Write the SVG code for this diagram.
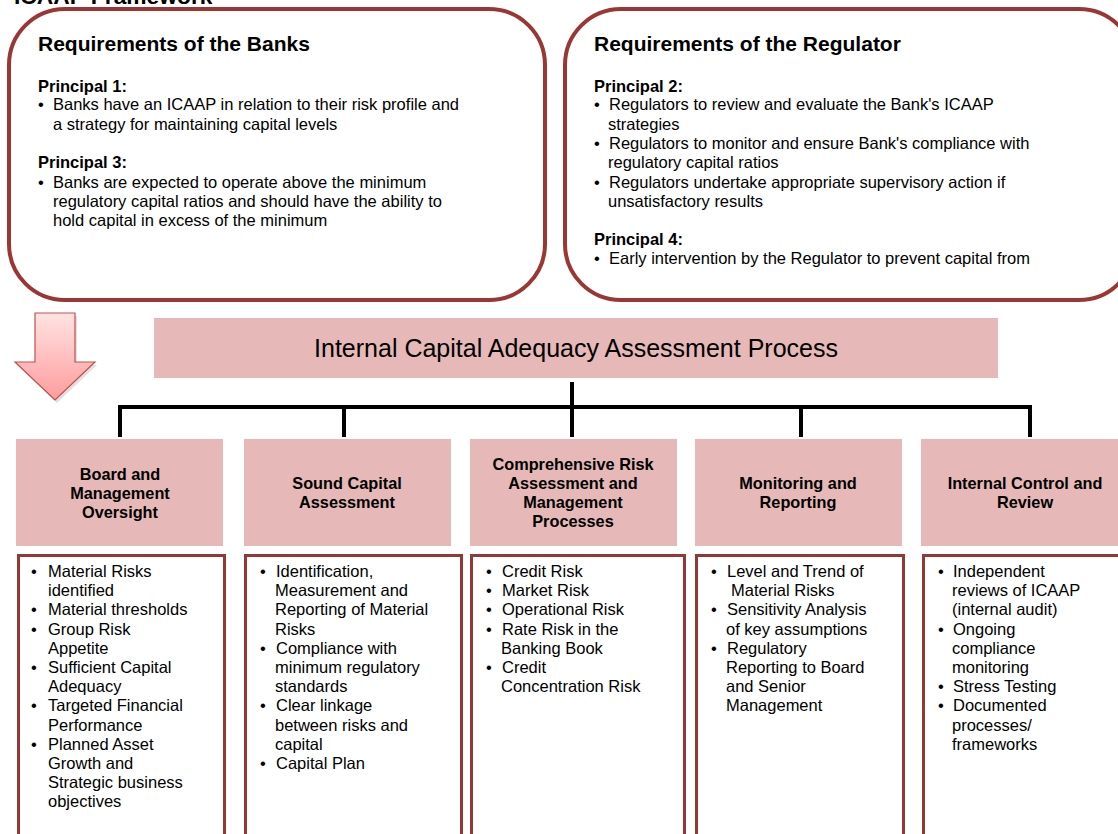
<svg xmlns="http://www.w3.org/2000/svg" width="1118" height="834" viewBox="0 0 1118 834">
<style>
text{font-family:"Liberation Sans",Arial,sans-serif;fill:#000}
.h1{font-size:21px;font-weight:bold}
.pr{font-size:16.5px;font-weight:bold}
.b{font-size:16.5px}
.hd{font-size:16.3px;font-weight:bold;text-anchor:middle}
.cb{font-size:16.5px}
.rbox{fill:#fff;stroke:#9A3735;stroke-width:4}
.head{fill:#E6B8B7}
.cbox{fill:#fff;stroke:#953734;stroke-width:3}
.conn{fill:none;stroke:#000;stroke-width:4;stroke-linejoin:miter}
</style>
<defs>
<linearGradient id="ag" x1="0" y1="0" x2="0" y2="1">
<stop offset="0" stop-color="#FFE3E3"/>
<stop offset="1" stop-color="#FF9C9C"/>
</linearGradient>
</defs>
<rect width="1118" height="834" fill="#fff"/>
<text x="14" y="4" style="font-size:22.8px;font-weight:bold">ICAAP Framework</text>

<g id="banks">
<rect class="rbox" x="9" y="9" width="536" height="291" rx="56" ry="56"/>
<text class="h1" x="38" y="51">Requirements of the Banks</text>
<text class="pr" x="38" y="92">Principal 1:</text>
<text class="b" x="38" y="110">•</text>
<text class="b" x="53" y="110">Banks have an ICAAP in relation to their risk profile and</text>
<text class="b" x="53" y="130">a strategy for maintaining capital levels</text>
<text class="pr" x="38" y="168">Principal 3:</text>
<text class="b" x="38" y="188">•</text>
<text class="b" x="53" y="188">Banks are expected to operate above the minimum</text>
<text class="b" x="53" y="207">regulatory capital ratios and should have the ability to</text>
<text class="b" x="53" y="226">hold capital in excess of the minimum</text>
</g>

<g id="regulator">
<rect class="rbox" x="565" y="9" width="570" height="291" rx="56" ry="56"/>
<text class="h1" x="594" y="51">Requirements of the Regulator</text>
<text class="pr" x="594" y="92">Principal 2:</text>
<text class="b" x="594" y="110">•</text>
<text class="b" x="609" y="110">Regulators to review and evaluate the Bank's ICAAP</text>
<text class="b" x="608" y="130">strategies</text>
<text class="b" x="594" y="149">•</text>
<text class="b" x="609" y="149">Regulators to monitor and ensure Bank's compliance with</text>
<text class="b" x="608" y="168">regulatory capital ratios</text>
<text class="b" x="594" y="188">•</text>
<text class="b" x="609" y="188">Regulators undertake appropriate supervisory action if</text>
<text class="b" x="608" y="207">unsatisfactory results</text>
<text class="pr" x="594" y="245">Principal 4:</text>
<text class="b" x="594" y="264">•</text>
<text class="b" x="609" y="264">Early intervention by the Regulator to prevent capital from</text>
</g>

<g id="arrow">
<path d="M37 316 H77 V365 H97 L57 403 L17 365 H37 Z" fill="#000" opacity="0.12"/>
<path d="M35 313 H75 V362 H95 L55 400 L15 362 H35 Z" fill="url(#ag)" stroke="#C0504D" stroke-width="1.2"/>
</g>

<g id="icaap">
<rect class="head" x="154" y="318" width="844" height="60"/>
<text x="576" y="357" style="font-size:25px;text-anchor:middle">Internal Capital Adequacy Assessment Process</text>
</g>

<g id="connectors">
<path class="conn" d="M572 382 V407 M120 437 V407 H1030 V437 M344 407 V437 M572 407 V437 M801 407 V437"/>
</g>

<g id="board">
<rect class="head" x="16" y="439" width="207" height="107"/>
<text class="hd" x="120" y="480">Board and</text>
<text class="hd" x="120" y="499">Management</text>
<text class="hd" x="120" y="518">Oversight</text>
<rect class="cbox" x="18.5" y="555.5" width="206" height="300"/>
<text class="cb" x="31" y="577">•</text><text class="cb" x="48" y="577">Material Risks</text>
<text class="cb" x="48" y="596">identified</text>
<text class="cb" x="31" y="615">•</text><text class="cb" x="48" y="615">Material thresholds</text>
<text class="cb" x="31" y="635">•</text><text class="cb" x="48" y="635">Group Risk</text>
<text class="cb" x="48" y="654">Appetite</text>
<text class="cb" x="31" y="673">•</text><text class="cb" x="48" y="673">Sufficient Capital</text>
<text class="cb" x="48" y="692">Adequacy</text>
<text class="cb" x="31" y="711">•</text><text class="cb" x="48" y="711">Targeted Financial</text>
<text class="cb" x="48" y="731">Performance</text>
<text class="cb" x="31" y="750">•</text><text class="cb" x="48" y="750">Planned Asset</text>
<text class="cb" x="48" y="769">Growth and</text>
<text class="cb" x="48" y="788">Strategic business</text>
<text class="cb" x="48" y="807">objectives</text>
</g>

<g id="sound">
<rect class="head" x="244" y="439" width="207" height="107"/>
<text class="hd" x="347" y="489">Sound Capital</text>
<text class="hd" x="347" y="508">Assessment</text>
<rect class="cbox" x="245.5" y="555.5" width="216" height="300"/>
<text class="cb" x="260" y="577">•</text><text class="cb" x="276" y="577">Identification,</text>
<text class="cb" x="275" y="596">Measurement and</text>
<text class="cb" x="275" y="615">Reporting of Material</text>
<text class="cb" x="275" y="635">Risks</text>
<text class="cb" x="260" y="654">•</text><text class="cb" x="276" y="654">Compliance with</text>
<text class="cb" x="275" y="673">minimum regulatory</text>
<text class="cb" x="275" y="692">standards</text>
<text class="cb" x="260" y="711">•</text><text class="cb" x="276" y="711">Clear linkage</text>
<text class="cb" x="275" y="731">between risks and</text>
<text class="cb" x="275" y="750">capital</text>
<text class="cb" x="260" y="769">•</text><text class="cb" x="276" y="769">Capital Plan</text>
</g>

<g id="comprehensive">
<rect class="head" x="470" y="439" width="207" height="107"/>
<text class="hd" x="573" y="470">Comprehensive Risk</text>
<text class="hd" x="573" y="489">Assessment and</text>
<text class="hd" x="573" y="508">Management</text>
<text class="hd" x="573" y="527">Processes</text>
<rect class="cbox" x="471.5" y="555.5" width="213" height="300"/>
<text class="cb" x="486" y="577">•</text><text class="cb" x="502" y="577">Credit Risk</text>
<text class="cb" x="486" y="596">•</text><text class="cb" x="502" y="596">Market Risk</text>
<text class="cb" x="486" y="615">•</text><text class="cb" x="502" y="615">Operational Risk</text>
<text class="cb" x="486" y="635">•</text><text class="cb" x="502" y="635">Rate Risk in the</text>
<text class="cb" x="501" y="654">Banking Book</text>
<text class="cb" x="486" y="673">•</text><text class="cb" x="502" y="673">Credit</text>
<text class="cb" x="501" y="692">Concentration Risk</text>
</g>

<g id="monitoring">
<rect class="head" x="695" y="439" width="207" height="107"/>
<text class="hd" x="798" y="489">Monitoring and</text>
<text class="hd" x="798" y="508">Reporting</text>
<rect class="cbox" x="696.5" y="555.5" width="207" height="300"/>
<text class="cb" x="711" y="577">•</text><text class="cb" x="727" y="577">Level and Trend of</text>
<text class="cb" x="731" y="596">Material Risks</text>
<text class="cb" x="711" y="615">•</text><text class="cb" x="727" y="615">Sensitivity Analysis</text>
<text class="cb" x="726" y="635">of key assumptions</text>
<text class="cb" x="711" y="654">•</text><text class="cb" x="727" y="654">Regulatory</text>
<text class="cb" x="726" y="673">Reporting to Board</text>
<text class="cb" x="726" y="692">and Senior</text>
<text class="cb" x="726" y="711">Management</text>
</g>

<g id="internal">
<rect class="head" x="921" y="439" width="207" height="107"/>
<text class="hd" x="1025" y="489">Internal Control and</text>
<text class="hd" x="1025" y="508">Review</text>
<rect class="cbox" x="923.5" y="555.5" width="210" height="300"/>
<text class="cb" x="938" y="577">•</text><text class="cb" x="953" y="577">Independent</text>
<text class="cb" x="952" y="596">reviews of ICAAP</text>
<text class="cb" x="952" y="615">(internal audit)</text>
<text class="cb" x="938" y="635">•</text><text class="cb" x="953" y="635">Ongoing</text>
<text class="cb" x="952" y="654">compliance</text>
<text class="cb" x="952" y="673">monitoring</text>
<text class="cb" x="938" y="692">•</text><text class="cb" x="953" y="692">Stress Testing</text>
<text class="cb" x="938" y="711">•</text><text class="cb" x="953" y="711">Documented</text>
<text class="cb" x="952" y="731">processes/</text>
<text class="cb" x="952" y="750">frameworks</text>
</g>
</svg>
